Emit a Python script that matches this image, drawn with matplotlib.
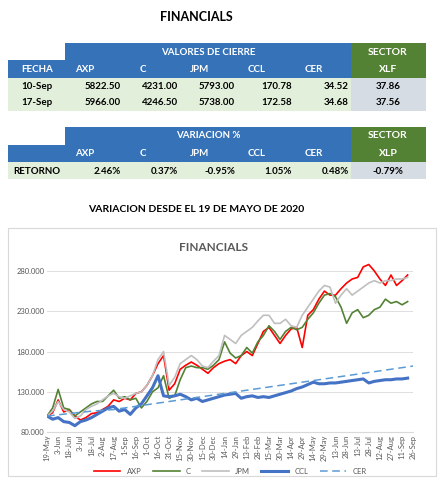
import numpy as np
import matplotlib
matplotlib.use("Agg")
import matplotlib.pyplot as plt
from matplotlib.patches import Rectangle

plt.rcParams['font.family'] = ['Lato', 'DejaVu Sans']

# table data
cols = ["AXP", "C", "JPM", "CCL", "CER"]
fechas = ["10-Sep", "17-Sep"]
cierre = [["5822.50", "4231.00", "5793.00", "170.78", "34.52"],
          ["5966.00", "4246.50", "5738.00", "172.58", "34.68"]]
xlf = ["37.86", "37.56"]
retorno = ["2.46%", "0.37%", "-0.95%", "1.05%", "0.48%"]
xlp_ret = "-0.79%"

# chart data (sampled every half tick, tick = 15 days from 19-May-2020)
ticks = ["19-May", "3-Jun", "18-Jun", "3-Jul", "18-Jul", "2-Aug", "17-Aug", "1-Sep", "16-Sep",
         "1-Oct", "16-Oct", "31-Oct", "15-Nov", "30-Nov", "15-Dec", "30-Dec", "14-Jan", "29-Jan",
         "13-Feb", "28-Feb", "15-Mar", "30-Mar", "14-Apr", "29-Apr", "14-May", "29-May", "13-Jun",
         "28-Jun", "13-Jul", "28-Jul", "12-Aug", "27-Aug", "11-Sep", "26-Sep"]
axp = [100, 104, 120, 105, 108, 100, 95, 98, 103, 104, 108, 112, 120, 118, 122, 120, 128, 130,
       138, 150, 165, 175, 132, 140, 158, 163, 167, 163, 158, 153, 160, 165, 168, 170, 165, 175,
       180, 175, 190, 205, 210, 200, 190, 200, 208, 210, 185, 225, 232, 245, 255, 250, 250, 258,
       265, 270, 272, 285, 288, 280, 270, 262, 275, 262, 268, 275]
c = [100, 110, 133, 110, 108, 100, 105, 110, 115, 118, 118, 125, 132, 122, 124, 120, 122, 110,
     118, 130, 135, 150, 122, 125, 145, 160, 162, 160, 160, 158, 163, 170, 192, 178, 172, 175,
     185, 178, 192, 200, 212, 205, 195, 205, 210, 207, 210, 220, 228, 240, 250, 252, 248, 235,
     215, 228, 232, 222, 225, 232, 235, 245, 240, 242, 238, 242]
jpm = [100, 106, 118, 108, 105, 97, 100, 108, 112, 115, 120, 125, 128, 124, 122, 125, 128, 130,
       138, 150, 170, 180, 138, 148, 165, 170, 175, 170, 162, 160, 168, 175, 200, 195, 190, 200,
       205, 210, 218, 225, 225, 215, 215, 220, 212, 210, 225, 235, 245, 255, 262, 260, 240, 250,
       258, 250, 255, 260, 265, 268, 265, 268, 268, 270, 270, 272]
ccl = [100, 96, 98, 93, 92, 88, 93, 95, 98, 102, 106, 110, 112, 106, 108, 102, 110, 115, 125,
       135, 150, 125, 124, 125, 127, 124, 120, 122, 118, 120, 122, 124, 126, 127, 128, 122, 124,
       125, 123, 124, 123, 125, 127, 129, 131, 134, 136, 139, 142, 140, 140, 141, 141, 142, 143,
       144, 145, 146, 141, 143, 144, 145, 145, 146, 146, 147]
cer = [100, 101.5, 103, 104.5, 106, 107, 108, 110, 112, 114, 116, 118, 120, 122, 124, 126, 128,
       130, 132, 134, 136, 138, 140, 142, 144, 146, 148, 150, 152, 154, 156, 158, 160, 162]

fig = plt.figure(figsize=(4.4, 4.78), dpi=100)

# background axes in pixel coords for the table
bg = fig.add_axes([0, 0, 1, 1])
bg.set_xlim(0, 440)
bg.set_ylim(478, 0)
bg.axis("off")

blue = "#3572B8"
green = "#548235"
lgreen = "#E2EFDA"
grey = "#D6DCE4"
xs = [8, 65, 123, 180, 237, 294, 351, 426]

def rect(x0, y0, x1, y1, col):
    bg.add_patch(Rectangle((x0, y0), x1 - x0, y1 - y0, color=col, lw=0))

bg.text(196, 17, "FINANCIALS", ha="center", va="center", fontsize=9, fontweight="bold")

# block 1
rect(65, 43, 351, 78, blue)
rect(8, 60, 65, 78, blue)
rect(351, 43, 426, 78, green)
rect(8, 78, 351, 111, lgreen)
rect(351, 78, 426, 111, grey)
bg.text(208, 52, "VALORES DE CIERRE", ha="center", va="center", color="white", fontsize=7, fontweight="bold")
bg.text(388, 52, "SECTOR", ha="center", va="center", color="white", fontsize=7.5, fontweight="bold")
bg.text(388, 69, "XLF", ha="center", va="center", color="white", fontsize=7.5, fontweight="bold")
bg.text(37, 69, "FECHA", ha="center", va="center", color="white", fontsize=7, fontweight="bold")
for i, name in enumerate(cols):
    bg.text(xs[i + 1] + 20 if i == 0 else xs[i + 1] + 20, 69, name, ha="center", va="center",
            color="white", fontsize=7, fontweight="bold")
for r in range(2):
    y = 86 + r * 16
    bg.text(37, y, fechas[r], ha="center", va="center", fontsize=7, fontweight="bold")
    for i in range(5):
        bg.text(xs[i + 2] - 2, y, cierre[r][i], ha="right", va="center", fontsize=7, fontweight="bold")
    bg.text(388, y, xlf[r], ha="center", va="center", fontsize=7, fontweight="bold")

# block 2
rect(65, 127, 351, 162, blue)
rect(8, 145, 65, 162, blue)
rect(351, 127, 426, 162, green)
rect(8, 162, 351, 179, lgreen)
rect(351, 162, 426, 179, grey)
bg.text(208, 136, "VARIACION %", ha="center", va="center", color="white", fontsize=7, fontweight="bold")
bg.text(388, 136, "SECTOR", ha="center", va="center", color="white", fontsize=7.5, fontweight="bold")
bg.text(388, 154, "XLP", ha="center", va="center", color="white", fontsize=7.5, fontweight="bold")
for i, name in enumerate(cols):
    bg.text(xs[i + 1] + 20, 154, name, ha="center", va="center", color="white", fontsize=7, fontweight="bold")
bg.text(37, 171, "RETORNO", ha="center", va="center", fontsize=7, fontweight="bold")
for i in range(5):
    bg.text(xs[i + 2] - 2, 171, retorno[i], ha="right", va="center", fontsize=7, fontweight="bold")
bg.text(388, 171, xlp_ret, ha="center", va="center", fontsize=7, fontweight="bold")

bg.text(196, 209, "VARIACION DESDE EL 19 DE MAYO DE 2020", ha="center", va="center",
        fontsize=7.5, fontweight="bold")

# chart box
bg.add_patch(Rectangle((8, 228), 428, 248, fill=False, ec="#D9D9D9", lw=0.8))
bg.text(213, 247, "FINANCIALS", ha="center", va="center", color="#595959", fontsize=8.5, fontweight="bold")

ax = fig.add_axes([0.107, 0.096, 0.832, 0.354])
ax.plot(np.arange(len(axp)) * 0.5, axp, color="#FF0000", lw=1.2, label="AXP")
ax.plot(np.arange(len(c)) * 0.5, c, color="#548235", lw=1.2, label="C")
ax.plot(np.arange(len(jpm)) * 0.5, jpm, color="#BFBFBF", lw=1.2, label="JPM")
ax.plot(np.arange(len(ccl)) * 0.5, ccl, color="#4472C4", lw=2.2, label="CCL")
ax.plot(np.arange(len(cer)), cer, color="#5B9BD5", lw=1.1, ls=(0, (5, 3)), label="CER")
ax.set_xlim(0, len(ticks) - 1)
ax.set_ylim(80, 290)
ax.set_yticks([80, 130, 180, 230, 280])
ax.set_yticklabels(["80.000", "130.000", "180.000", "230.000", "280.000"], fontsize=5.5, color="#595959")
ax.set_xticks(range(len(ticks)))
ax.set_xticklabels(ticks, rotation=90, fontsize=5.5, color="#595959")
ax.grid(axis="y", color="#D9D9D9", lw=0.6)
ax.set_axisbelow(True)
for s in ["top", "right", "left"]:
    ax.spines[s].set_visible(False)
ax.spines["bottom"].set_color("#D9D9D9")
ax.tick_params(length=0, pad=2)
ax.legend(loc="upper center", bbox_to_anchor=(0.5, -0.17), ncol=5, frameon=False,
          fontsize=5.5, handlelength=3.5, columnspacing=1.5, labelcolor="#595959")

fig.savefig("out.png", dpi=100)
